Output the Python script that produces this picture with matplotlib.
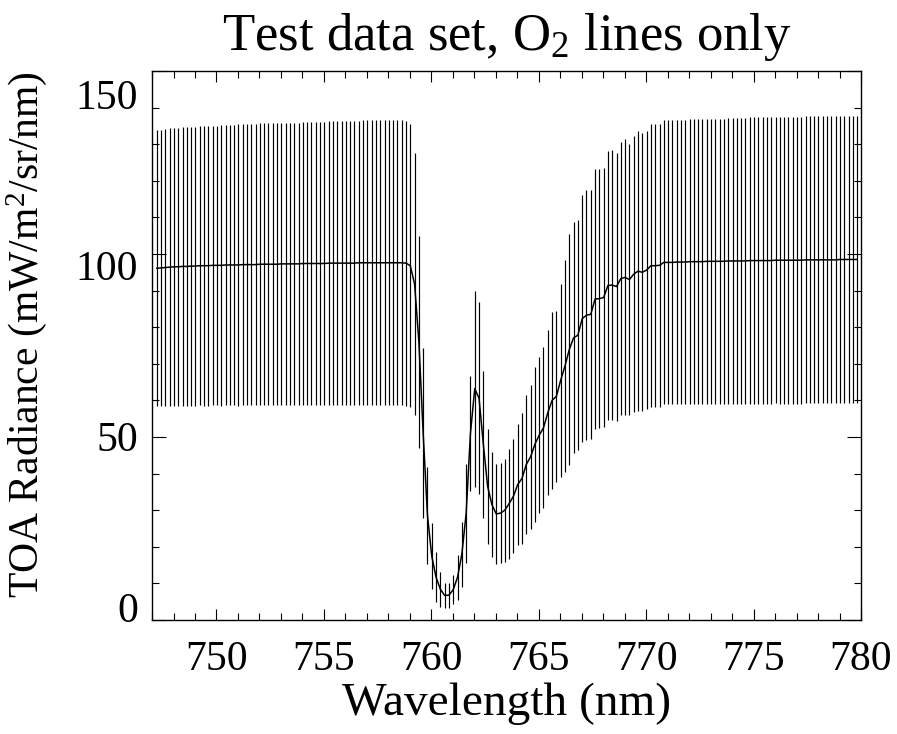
import numpy as np
import matplotlib
matplotlib.use('Agg')
import matplotlib.pyplot as plt

# Wavelength grid of the test set (nm), 0.2 nm sampling
wl_start = 747.22
wl_step = 0.2
n_points = 164

# Mean TOA radiance (mW/m2/sr/nm) and its spread (half length of the bars)
radiance = [
    96.1, 96.2, 96.3, 96.4, 96.5, 96.5, 96.6, 96.6, 96.7, 96.7,
    96.8, 96.8, 96.8, 96.9, 96.9, 96.9, 97.0, 97.0, 97.0, 97.0,
    97.1, 97.1, 97.1, 97.1, 97.2, 97.2, 97.2, 97.2, 97.2, 97.3,
    97.3, 97.3, 97.3, 97.3, 97.4, 97.4, 97.4, 97.4, 97.4, 97.4,
    97.5, 97.5, 97.5, 97.5, 97.5, 97.5, 97.5, 97.6, 97.6, 97.6,
    97.6, 97.6, 97.6, 97.6, 97.6, 97.6, 97.6, 97.6,
    # O2 A-band, first branch
    97.5, 96.8, 91.8, 76.0, 51.0, 28.6, 17.4, 11.7, 8.4, 6.7, 6.8, 8.3, 11.7,
    18.0, 29.1, 51.0, 63.2, 60.6, 48.0, 36.5, 31.5, 29.0, 29.2, 30.0, 31.8, 33.8,
    # second branch
    37.0, 38.7, 42.5, 44.6, 48.0, 50.5, 52.5, 56.6, 60.0, 61.1,
    65.5, 69.4, 73.9, 77.1, 77.8, 82.3, 83.3, 83.5, 87.7,
    87.8, 88.1, 91.4, 91.5, 91.1, 93.3, 93.6, 93.0, 94.5, 95.3,
    95.0, 95.6, 96.8, 96.8, 96.9, 97.7, 97.7, 97.7, 97.8,
    97.8, 97.8, 97.9, 97.9, 97.9, 97.9, 98.0, 98.0, 98.0, 98.0,
    98.0, 98.1, 98.1, 98.1, 98.1, 98.1, 98.2, 98.2, 98.2, 98.2,
    98.2, 98.2, 98.3, 98.3, 98.3, 98.3, 98.3, 98.3, 98.3, 98.4,
    98.4, 98.4, 98.4, 98.4, 98.4, 98.4, 98.4, 98.5, 98.5, 98.5,
    98.5, 98.5,
]

spread = [
    37.7, 37.8, 37.8, 37.9, 37.9, 38.0, 38.0, 38.0, 38.1, 38.1,
    38.1, 38.2, 38.2, 38.2, 38.2, 38.3, 38.3, 38.3, 38.3, 38.4,
    38.4, 38.4, 38.4, 38.4, 38.5, 38.5, 38.5, 38.5, 38.5, 38.6,
    38.6, 38.6, 38.6, 38.6, 38.6, 38.7, 38.7, 38.7, 38.7, 38.7,
    38.7, 38.8, 38.8, 38.8, 38.8, 38.8, 38.8, 38.8, 38.9, 38.9,
    38.9, 38.9, 38.9, 38.9, 38.9, 38.9, 38.9, 38.9,
    38.9, 38.6, 35.9, 29.0, 23.2, 13.2, 9.0, 6.9, 4.8, 3.5, 3.4, 4.0, 6.1,
    8.9, 13.6, 15.7, 26.8, 26.2, 20.0, 15.8, 14.3, 13.7, 13.7, 14.1, 15.0, 15.6,
    16.6, 17.8, 18.9, 19.6, 21.2, 21.4, 22.0, 22.5, 24.1, 23.4,
    26.4, 28.9, 31.6, 31.6, 31.4, 33.7, 34.2, 34.0, 35.4,
    35.4, 35.5, 36.7, 36.8, 36.6, 37.4, 37.7, 37.0, 37.7, 38.3,
    38.0, 38.0, 38.6, 38.6, 38.6, 38.8, 38.8, 38.8, 38.9,
    38.9, 38.9, 38.9, 38.9, 39.0, 39.0, 39.0, 39.0, 39.0, 39.0,
    39.0, 39.0, 39.1, 39.1, 39.1, 39.1, 39.1, 39.1, 39.1, 39.1,
    39.1, 39.1, 39.1, 39.2, 39.2, 39.2, 39.2, 39.2, 39.2, 39.2,
    39.2, 39.2, 39.2, 39.2, 39.2, 39.2, 39.2, 39.2, 39.2, 39.2,
    39.2, 39.2,
]

x_ticks = [750, 755, 760, 765, 770, 775, 780]
y_ticks = [0, 50, 100, 150]

wavelength = np.round(wl_start + wl_step * np.arange(n_points), 2)
radiance = np.array(radiance)
spread = np.array(spread)

plt.rcParams['font.family'] = ['Liberation Serif', 'DejaVu Serif']
plt.rcParams['mathtext.fontset'] = 'custom'
plt.rcParams['mathtext.rm'] = 'Liberation Serif'
plt.rcParams['mathtext.default'] = 'regular'

fig = plt.figure(figsize=(8.97, 7.34), dpi=100)
box = [0.1695, 0.1553, 0.7904, 0.7480]
ax = fig.add_axes(box)

# Bars first, mean curve on top
ax.vlines(wavelength, radiance - spread, radiance + spread,
    color='black', linewidth=0.85)
ax.plot(wavelength, radiance, color='black', linewidth=1.1)

ax.set_xlim(747, 780)
ax.set_ylim(0, 150)
ax.set_xticks(x_ticks)
ax.set_yticks(y_ticks)
ax.set_xticks(np.arange(747, 781, 1), minor=True)
ax.set_yticks(np.arange(0, 151, 10), minor=True)
ax.set_yticklabels([])

ax.tick_params(which='both', direction='in', top=True, right=True,
    width=0.8, labelsize=30)
ax.tick_params(which='major', axis='x', length=8, pad=15)
ax.tick_params(which='major', axis='y', length=10)
ax.tick_params(which='minor', length=5)
for sp in ax.spines.values():
    sp.set_linewidth(1.0)

# IDL squeezes the y labels a little toward the middle of the axis
lab = fig.add_axes(box, frameon=False)
lab.set_ylim(-3.8, 156.7)
lab.set_yticks(y_ticks)
lab.set_xticks([])
lab.tick_params(axis='y', length=0, labelsize=30, pad=10)
lab.patch.set_visible(False)

ax.set_xlabel('Wavelength (nm)', fontsize=34, labelpad=2)
ax.set_ylabel('TOA Radiance (mW/m$^2$/sr/nm)', fontsize=30)
ax.yaxis.set_label_coords(-0.145, 0.52)
ax.set_title('Test data set, O$_2$ lines only', fontsize=38, pad=15)

fig.savefig('out.png', dpi=100)
